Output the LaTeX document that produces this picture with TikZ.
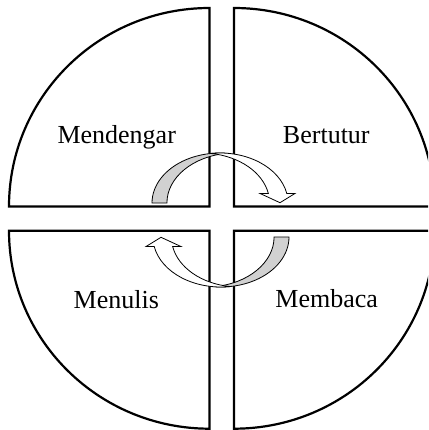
\documentclass[tikz,border=0pt]{standalone}
\usepackage{fontspec}
\setmainfont{Liberation Serif}
\begin{document}
\begin{tikzpicture}[x=1pt,y=1pt,
  quad/.style={draw=black,line width=2.2pt,line join=miter},
  lbl/.style={anchor=base,inner sep=0pt,font=\fontsize{26}{31}\selectfont},
  backband/.style={draw=black,line width=0.8pt,fill=black!18},
  frontband/.style={draw=black,line width=0.8pt,fill=white,line join=miter}]
\clip (0,0) rectangle (428,-430);
\fill[white] (0,0) rectangle (428,-430);
% quadrants
\draw[quad] (209.5,-8) -- (209.5,-206.5) -- (9,-206.5)
  arc[start angle=180,end angle=90,x radius=200.5,y radius=198.5] -- cycle;
\draw[quad] (234,-8) -- (234,-206.5) -- (434.5,-206.5)
  arc[start angle=0,end angle=90,x radius=200.5,y radius=198.5] -- cycle;
\draw[quad] (209.5,-428.7) -- (209.5,-230.7) -- (9,-230.7)
  arc[start angle=180,end angle=270,x radius=200.5,y radius=198] -- cycle;
\draw[quad] (234,-428.7) -- (234,-230.7) -- (434.5,-230.7)
  arc[start angle=0,end angle=-90,x radius=200.5,y radius=198] -- cycle;
% labels
\node[lbl] (mendengar) at (116.7,-143.3) {Mendengar};
\node[lbl] (bertutur) at (326.3,-143.3) {Bertutur};
\node[lbl] (menulis) at (116.3,-308.3) {Menulis};
\node[lbl] (membaca) at (326.7,-307.5) {Membaca};
% curved arrows
\foreach \rot in {0,180}{
\begin{scope}[rotate around={\rot:(220.5,-220)}]
\draw[backband] (152,-203)
  arc[start angle=180,end angle=83.7,x radius=68,y radius=50]
  arc[start angle=96.3,end angle=180,x radius=68,y radius=50] -- cycle;
\draw[frontband] (210.77,-153.46)
  arc[start angle=97.8,end angle=11,x radius=68,y radius=50]
  -- (295,-193.46) -- (280,-202.7) -- (260,-193.46) -- (268.35,-193.46)
  arc[start angle=11,end angle=82.2,x radius=68,y radius=50] -- cycle;
\end{scope}}
\end{tikzpicture}
\end{document}
